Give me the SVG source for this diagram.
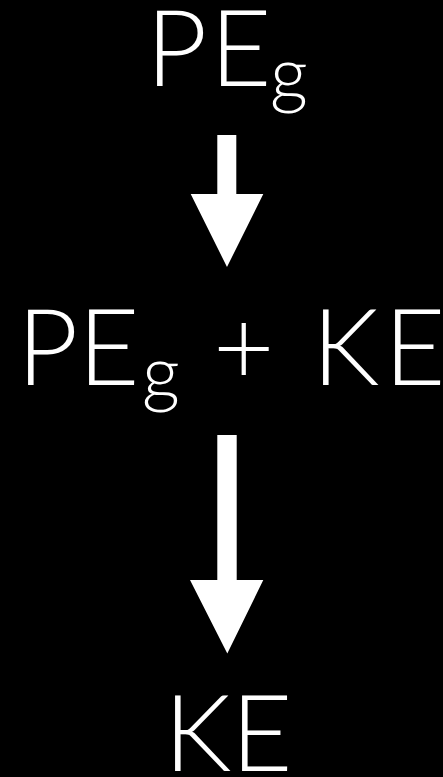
<svg xmlns="http://www.w3.org/2000/svg" width="443" height="777" viewBox="0 0 443 777">
<style>
.t{font-family:Lato,"Open Sans","Liberation Sans",sans-serif;font-weight:300;fill:#fff;font-size:106px}
.s{font-size:74px}
.a{fill:#fff}
</style>
<rect width="443" height="777" fill="#000"/>
<g id="n1"><text class="t" y="86"><tspan x="146">P</tspan><tspan x="210">E</tspan><tspan class="s" x="270" dy="14">g</tspan></text></g>
<g id="n2"><text class="t" y="385"><tspan x="17">P</tspan><tspan x="78">E</tspan><tspan class="s" x="142" dy="14">g</tspan><tspan x="213" dy="-14">+</tspan><tspan x="312">K</tspan><tspan x="384">E</tspan></text></g>
<g id="n3"><text class="t" y="771"><tspan x="164">K</tspan><tspan x="231">E</tspan></text></g>
<g id="connectors">
<polygon class="a" points="217.3,135 236.3,135 236.3,194 263.3,194 227,267 190.7,194 217.3,194"/>
<polygon class="a" points="217.3,435 236.7,435 236.7,580 263.3,580 227.3,653.5 190,580 217.3,580"/>
</g>
</svg>
